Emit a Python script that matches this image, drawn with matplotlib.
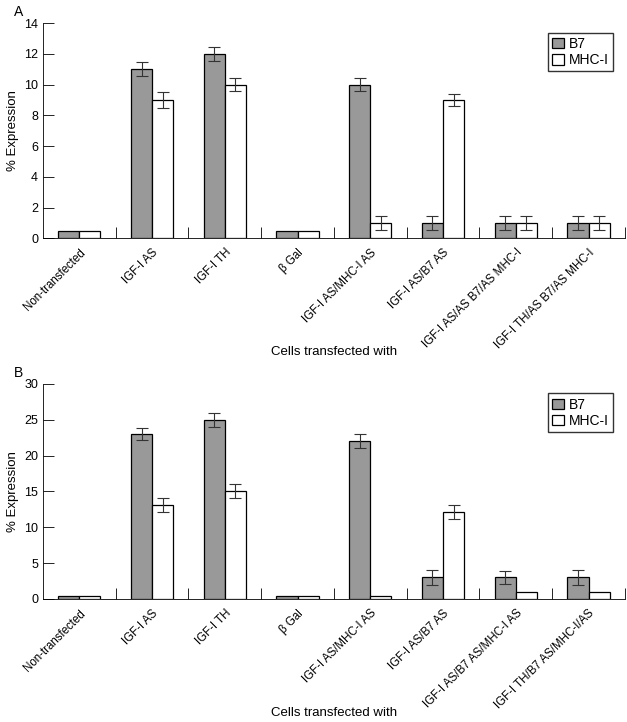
import numpy as np
import matplotlib.pyplot as plt

plt.rcParams['font.family'] = ['Liberation Sans', 'DejaVu Sans']

labels_a = ["Non-transfected", "IGF-I AS", "IGF-I TH", "\u03b2 Gal", "IGF-I AS/MHC-I AS",
            "IGF-I AS/B7 AS", "IGF-I AS/AS B7/AS MHC-I", "IGF-I TH/AS B7/AS MHC-I"]
labels_b = ["Non-transfected", "IGF-I AS", "IGF-I TH", "\u03b2 Gal", "IGF-I AS/MHC-I AS",
            "IGF-I AS/B7 AS", "IGF-I AS/B7 AS/MHC-I AS", "IGF-I TH/B7 AS/MHC-I/AS"]

b7_a = [0.5, 11, 12, 0.5, 10, 1, 1, 1]
b7_a_err = [0, 0.45, 0.45, 0, 0.45, 0.45, 0.45, 0.45]
mhc_a = [0.5, 9, 10, 0.5, 1, 9, 1, 1]
mhc_a_err = [0, 0.5, 0.45, 0, 0.45, 0.4, 0.45, 0.45]

b7_b = [0.4, 23, 25, 0.4, 22, 3, 3, 3]
b7_b_err = [0, 0.9, 1.0, 0, 1.0, 1.0, 0.9, 1.0]
mhc_b = [0.4, 13.1, 15.1, 0.4, 0.4, 12.1, 1, 1]
mhc_b_err = [0, 1.0, 1.0, 0, 0, 1.0, 0, 0]

fig = plt.figure(figsize=(6.27, 7.22), dpi=100)
ax_a = fig.add_axes([0.0686, 0.670, 0.928, 0.298])
ax_b = fig.add_axes([0.0686, 0.1704, 0.928, 0.298])


def draw(ax, labels, b7, b7_err, mhc, mhc_err, ymax, ystep, letter):
    x = np.arange(len(labels)) + 0.5
    w = 0.29
    ax.bar(x - w / 2, b7, w, color="#999999", edgecolor="black", linewidth=0.9, label="B7")
    ax.bar(x + w / 2, mhc, w, color="white", edgecolor="black", linewidth=0.9, label="MHC-I")
    for xs, vals, errs in [(x - w / 2, b7, b7_err), (x + w / 2, mhc, mhc_err)]:
        for xi, v, e in zip(xs, vals, errs):
            if e > 0:
                ax.errorbar(xi, v, yerr=e, fmt="none", ecolor="#333333",
                            elinewidth=0.8, capsize=4.5, capthick=0.8)
    ax.set_xlim(0, len(labels))
    ax.set_ylim(0, ymax)
    ax.set_yticks(np.arange(0, ymax + 0.01, ystep))
    ax.set_xticks(x)
    ax.set_xticklabels(labels, rotation=45, ha="right", rotation_mode="anchor", fontsize=8.3)
    ax.set_xticks(np.arange(1, len(labels) + 1), minor=True)
    ax.tick_params(axis="x", which="major", length=0, pad=6)
    ax.tick_params(axis="x", which="minor", direction="in", length=8, width=0.6)
    ax.tick_params(axis="y", direction="in", length=8, width=0.6, labelsize=9)
    for s in ["top", "right"]:
        ax.spines[s].set_visible(False)
    ax.spines["left"].set_linewidth(0.6)
    ax.spines["bottom"].set_linewidth(0.6)
    ax.set_ylabel("% Expression", fontsize=9.5)
    ax.set_xlabel("Cells transfected with", fontsize=9.5)
    ax.xaxis.set_label_coords(0.5, -0.50)
    ax.legend(loc="upper right", bbox_to_anchor=(0.98, 0.955), fontsize=10, frameon=True,
              fancybox=False, edgecolor="black", handlelength=0.8, handleheight=0.8,
              handletextpad=0.4, borderpad=0.3, labelspacing=0.15, borderaxespad=0)
    ax.text(-0.05, 1.02, letter, transform=ax.transAxes, fontsize=10, ha="left", va="bottom")


draw(ax_a, labels_a, b7_a, b7_a_err, mhc_a, mhc_a_err, 14, 2, "A")
draw(ax_b, labels_b, b7_b, b7_b_err, mhc_b, mhc_b_err, 30, 5, "B")

fig.savefig("out.png", dpi=100)
